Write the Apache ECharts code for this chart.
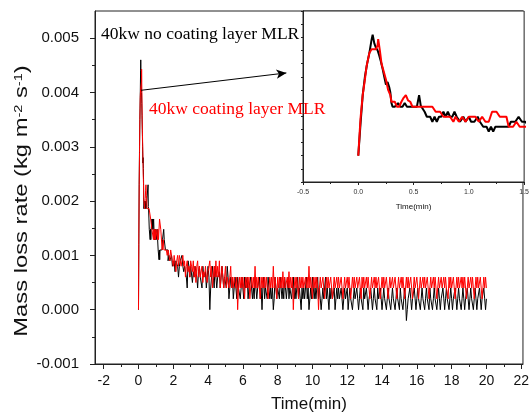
<!DOCTYPE html>
<html><head><meta charset="utf-8">
<script src="https://cdn.jsdelivr.net/npm/echarts@6/dist/echarts.min.js"></script>
<style>html,body{margin:0;padding:0;background:#fff}#c{width:532px;height:420px}</style>
</head><body><div id="c"></div>
<script>
// Tick labels
const xTicks = [-2, 0, 2, 4, 6, 8, 10, 12, 14, 16, 18, 20, 22];
const xMinorTicks = [-1, 1, 3, 5, 7, 9, 11, 13, 15, 17, 19, 21];
const yTicks = [-0.001, 0, 0.001, 0.002, 0.003, 0.004, 0.005];
const yMinorTicks = [-0.0005, 0.0005, 0.0015, 0.0025, 0.0035, 0.0045];
const insetXTicks = [-0.5, 0, 0.5, 1.0, 1.5];

// Values in units of 1e-4 kg m^-2 s^-1
const headTimeBlack = [0,0.02,0.04,0.06,0.08, 0.10,0.12,0.13,0.145,0.16, 0.175,0.19,0.205,0.22,0.235,
  0.25,0.265,0.28,0.29,0.30, 0.31,0.33,0.36,0.38,0.40, 0.42,0.44,0.47,0.50,0.53,
  0.55,0.565,0.58,0.60,0.62, 0.65,0.67,0.69,0.71,0.73, 0.75,0.77,0.79,0.81,0.83,
  0.85,0.87,0.89,0.92,0.95, 0.97,1.00,1.02,1.05,1.08, 1.10,1.13,1.16,1.18,1.20,
  1.22,1.24,1.27,1.30,1.33, 1.36,1.38,1.42,1.45,1.48, 1.51,1.55];
const headBlack = [0,12,23,30,35, 39,44,46,42.7,41, 40,38,35.7,33,30,
  27,28,26,24,20, 18.6,18.6,20,18.6,18.6, 20,18.6,18.6,18.6,18.6,
  23,19,18.6,16.7,14.8, 14.8,12.9,14.8,12.9,14.8, 14.8,16.7,14.8,16.7,14.8,
  14.8,16.7,14.8,12.9,14.8, 12.9,14.8,12.9,12.9,14.8, 12.9,11,11,9.2,11,
  9.2,11,11,11,11, 11,12.9,12.9,14.8,12.9, 12.9,11];

const headTimeRed = [0,0.02,0.04,0.06,0.075, 0.09,0.10,0.12,0.14,0.16, 0.175,0.18,0.195,0.21,0.23,
  0.25,0.27,0.29,0.30,0.33, 0.35,0.37,0.39,0.41,0.43, 0.45,0.47,0.49,0.52,0.55,
  0.58,0.61,0.64,0.67,0.70, 0.74,0.77,0.80,0.83,0.86, 0.88,0.91,0.94,0.97,1.00,
  1.03,1.06,1.09,1.12,1.15, 1.18,1.21,1.25,1.28,1.31, 1.34,1.36,1.40,1.43,1.46,
  1.50,1.55];
const headRed = [0,14,23,29,34, 37,39,40.5,40.5,40.5, 42,44.3,40,35,32,
  29,25,23,20.5,20.5, 18.6,18.6,20.5,22,23, 21,20.5,18.6,18.6,18.6,
  18.6,18.6,18.6,18.6,16.7, 16.7,14.8,14.8,14.8,12.9, 14.8,12.9,14.8,12.9,14.8,
  14.8,14.8,12.9,14.8,12.9, 12.9,16.7,16.7,14.8,14.8, 14.8,11,11,12.9,11,
  11,11];

// Tail sampled every 0.05 min from 1.6 min (one row = 1 min)
const tailStart = 1.6, tailStep = 0.05;
const tailBlack = [
  11,11,9,10,9,9,10,8,8,9,7,9,9,8,6,8,9,9,10,8,
  7,8,8,6,4,9,8,6,8,8,5,7,6,8,8,6,4,7,8,6,
  6,4,8,6,6,7,4,6,8,6,0,4,6,8,6,4,8,6,4,6,
  6,7,4,6,8,6,4,6,6,4,8,6,2,4,6,4,6,2,4,6,
  4,2,6,4,4,2,4,6,4,2,6,4,4,6,2,4,4,6,4,2,
  4,2,6,4,2,4,4,6,2,4,0,4,6,2,4,4,2,6,4,2,
  4,2,4,0,2,6,4,2,4,4,2,6,4,2,4,2,6,4,2,4,
  6,2,4,4,2,4,6,2,4,2,4,6,2,4,2,0,4,2,4,2,
  4,6,2,4,0,2,4,2,6,4,2,4,2,4,6,2,4,2,0,2,
  4,2,4,6,2,4,2,0,4,2,4,2,2,4,0,2,4,2,4,2,
  2,4,2,0,2,4,2,2,4,0,2,4,2,2,0,2,4,2,2,4,
  2,0,2,4,2,2,0,4,2,2,4,2,0,2,2,4,2,0,2,4,
  2,2,0,4,2,2,4,2,0,2,4,2,2,0,2,4,2,2,0,2,
  4,2,2,0,2,4,2,2,0,4,2,2,0,2,4,2,-2,0,2,2,
  4,2,0,2,2,4,2,0,2,4,2,2,0,2,4,2,2,0,2,4,
  2,2,0,4,2,2,0,2,4,2,2,0,2,4,2,0,2,2,4,2,
  0,2,4,2,2,0,2,4,2,0,2,2,4,2,0,2,4,2,2,0,
  2,4,2,0,2,2,4,2,0,2,4,2,2,0,2,4,2,0,2,2,
  4,2,0,2,2,4,2,0,2];
const tailRed = [
  11,10,11,10,9,11,10,9,8,10,10,7,9,10,8,10,9,8,9,10,
  8,9,6,8,9,7,8,6,9,8,7,9,6,8,5,8,9,6,8,6,
  6,8,5,7,6,8,6,5,7,8,9,6,8,4,6,8,6,9,6,8,
  6,9,4,6,8,6,4,6,8,4,6,6,4,6,8,4,6,4,6,6,
  4,6,0,4,6,4,6,4,6,4,2,6,4,6,4,6,2,4,6,4,
  6,4,8,4,6,4,6,4,2,6,4,6,4,6,4,6,4,2,4,6,
  4,6,4,8,4,6,4,2,6,4,6,4,6,4,7,4,6,4,4,6,
  4,7,4,6,4,6,0,4,6,4,6,4,2,6,4,6,4,6,4,4,
  6,4,6,4,8,4,6,4,2,6,4,6,4,6,4,0,4,6,4,4,
  6,4,2,4,6,4,6,4,4,6,4,2,4,6,4,4,6,4,6,4,
  4,6,4,2,4,6,4,4,6,4,6,4,2,4,6,4,6,4,4,6,
  4,4,6,4,2,6,4,6,4,4,6,4,6,4,2,4,6,4,4,6,
  4,6,4,4,6,4,2,4,6,4,6,4,4,6,4,2,4,6,4,4,
  6,4,4,6,4,2,4,6,4,4,6,4,6,4,2,4,6,4,6,4,
  4,6,4,2,4,6,4,4,6,4,2,4,6,4,4,6,4,6,4,4,
  6,4,2,4,6,4,4,6,4,6,4,2,4,6,4,4,6,4,4,6,
  4,6,4,4,2,6,4,6,4,4,6,4,2,4,6,4,6,4,4,6,
  4,6,4,6,4,2,4,6,4,4,6,4,6,4,2,4,6,4,6,4,
  4,6,4,2,4,6,4,6,4];

const UNIT = 1e-4;
function build(ht, hv, tv) {
  const out = ht.map((t, i) => [t, hv[i] * UNIT]);
  tv.forEach((v, i) => out.push([+(tailStart + i * tailStep).toFixed(3), v * UNIT]));
  return out;
}
const blackData = build(headTimeBlack, headBlack, tailBlack);
const redData = build(headTimeRed, headRed, tailRed);

const SANS = '"Liberation Sans", Arial, sans-serif';
const SERIF = '"Liberation Serif", "Times New Roman", serif';
const AX = '#222';

const chart = echarts.init(document.getElementById('c'), null, {renderer: 'canvas'});
chart.setOption({
  animation: false,
  backgroundColor: '#fff',
  grid: [
    {left: 95, top: 11, right: 5, bottom: 56, show: true, borderColor: AX, borderWidth: 1, backgroundColor: 'transparent'},
    {left: 303, top: 11, width: 227, height: 171, show: true, borderColor: AX, borderWidth: 1, backgroundColor: '#fff'}
  ],
  xAxis: [
    {type: 'value', gridIndex: 0, position: 'bottom', min: -2.5, max: 22.1,
     name: 'Time(min)', nameLocation: 'middle', nameGap: 32,
     nameTextStyle: {fontFamily: SANS, fontSize: 17, color: '#111'},
     axisLine: {onZero: false, lineStyle: {color: AX, width: 1}},
     axisTick: {customValues: xTicks, inside: false, length: 5, lineStyle: {color: AX}},
     axisLabel: {customValues: xTicks, margin: 10, fontFamily: SANS, fontSize: 14, color: '#111'},
     splitLine: {show: false}},
    {type: 'value', gridIndex: 0, position: 'bottom', min: -2.5, max: 22.1,
     axisLine: {show: false, onZero: false}, axisLabel: {show: false}, splitLine: {show: false},
     axisTick: {customValues: xMinorTicks, length: 3, lineStyle: {color: AX}}},
    {type: 'value', gridIndex: 1, position: 'bottom', min: -0.5, max: 1.5, interval: 0.5,
     name: 'Time(min)', nameLocation: 'middle', nameGap: 21,
     nameTextStyle: {fontFamily: SANS, fontSize: 8, color: '#111'},
     axisLine: {onZero: false, lineStyle: {color: AX, width: 1}},
     axisTick: {length: 3, lineStyle: {color: AX}},
     minorTick: {show: true, splitNumber: 2, length: 2, lineStyle: {color: AX}},
     axisLabel: {margin: 7, fontFamily: SANS, fontSize: 7, color: '#333', formatter: v => v.toFixed(1)},
     splitLine: {show: false}}
  ],
  yAxis: [
    {type: 'value', gridIndex: 0, position: 'left', min: -0.001, max: 0.0055,
     axisLine: {onZero: false, lineStyle: {color: AX, width: 1}},
     axisTick: {customValues: yTicks, length: 5, lineStyle: {color: AX}},
     axisLabel: {customValues: yTicks, margin: 16, fontFamily: SANS, fontSize: 15, color: '#111', formatter: v => v.toFixed(3)},
     splitLine: {show: false}},
    {type: 'value', gridIndex: 0, position: 'left', min: -0.001, max: 0.0055,
     axisLine: {show: false, onZero: false}, axisLabel: {show: false}, splitLine: {show: false},
     axisTick: {customValues: yMinorTicks, length: 3, lineStyle: {color: AX}}},
    {type: 'value', gridIndex: 1, position: 'left', min: -0.001, max: 0.0055, interval: 0.0005,
     axisLine: {onZero: false, lineStyle: {color: AX, width: 1}},
     axisTick: {length: 2, lineStyle: {color: AX}},
     axisLabel: {show: false}, splitLine: {show: false}}
  ],
  series: [
    {type: 'line', name: '40kw no coating layer MLR', xAxisIndex: 0, yAxisIndex: 0, data: blackData,
     step: 'end', showSymbol: false, symbol: 'none', lineStyle: {color: '#000', width: 1}, z: 2,
     markLine: {silent: true, symbol: ['none', 'arrow'], symbolSize: [7, 10],
       lineStyle: {color: '#000', width: 1, type: 'solid'}, label: {show: false},
       data: [[{coord: [0.15, 0.00404]}, {coord: [8.5, 0.00436]}]]}},
    {type: 'line', name: '40kw coating layer MLR', xAxisIndex: 0, yAxisIndex: 0, data: redData,
     step: 'end', showSymbol: false, symbol: 'none', lineStyle: {color: '#ff0000', width: 1}, z: 3},
    {type: 'line', xAxisIndex: 2, yAxisIndex: 2, data: blackData, clip: true,
     showSymbol: false, symbol: 'none', lineStyle: {color: '#000', width: 2}, z: 4},
    {type: 'line', xAxisIndex: 2, yAxisIndex: 2, data: redData, clip: true,
     showSymbol: false, symbol: 'none', lineStyle: {color: '#ff0000', width: 2}, z: 5}
  ],
  graphic: [
    {type: 'text', left: 101, top: 25, z: 10,
     style: {text: '40kw no coating layer MLR', fill: '#000', font: '17.5px ' + SERIF}},
    {type: 'text', left: 149, top: 100, z: 10,
     style: {text: '40kw coating layer MLR', fill: '#ff0000', font: '17.5px ' + SERIF}},
    {type: 'text', x: 22, y: 201, rotation: Math.PI / 2, scaleX: 1.32, z: 10,
     style: {text: 'Mass loss rate (kg m{sup|-2} s{sup|-1})', fill: '#111',
       font: '18px ' + SANS, align: 'center', verticalAlign: 'middle',
       rich: {sup: {fontFamily: SANS, fontSize: 11, fill: '#111', verticalAlign: 'top', lineHeight: 18}}}}
  ]
});
</script></body></html>
